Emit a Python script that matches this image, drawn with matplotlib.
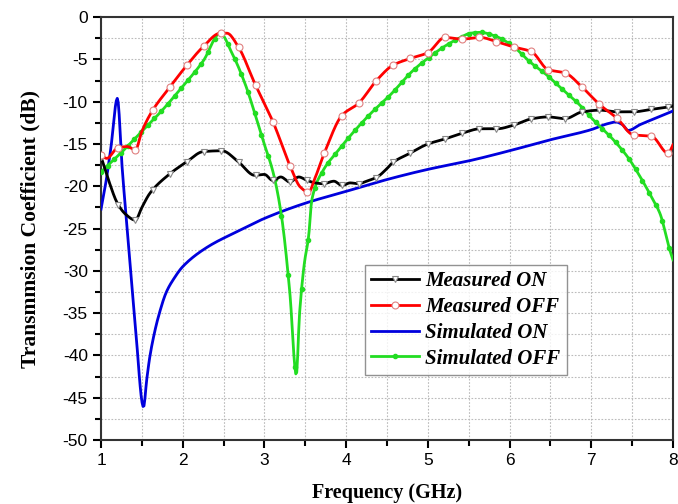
import numpy as np
import matplotlib
matplotlib.use("Agg")
import matplotlib.pyplot as plt
from matplotlib.ticker import MultipleLocator

plt.rcParams['axes.unicode_minus'] = False

# Measured ON
mon_x = [1.0, 1.1, 1.2, 1.3, 1.42, 1.5, 1.6, 1.82, 2.05, 2.25, 2.48, 2.68, 2.88, 3.0, 3.1, 3.2, 3.31, 3.42, 3.52,
         3.62, 3.72, 3.85, 3.95, 4.05, 4.15, 4.25, 4.38, 4.5, 4.57, 4.78, 5.0, 5.21, 5.43, 5.64, 5.85, 6.04, 6.28,
         6.47, 6.68, 6.89, 7.11, 7.32, 7.51, 7.74, 7.96, 8.0]
mon_y = [-16.5, -19.5, -22.0, -23.3, -24.0, -22.5, -20.8, -18.7, -17.1, -15.9, -15.8, -17.1, -18.7, -18.6, -19.3, -18.9, -19.5, -18.9, -19.3,
         -19.6, -19.7, -19.4, -19.9, -19.6, -19.7, -19.4, -18.9, -17.9, -17.2, -16.1, -15.0, -14.4, -13.7, -13.2, -13.2, -12.8, -12.0,
         -11.8, -12.0, -11.2, -11.0, -11.2, -11.2, -10.9, -10.6, -10.5]

# Measured OFF
moff_x = [1.0, 1.07, 1.2, 1.32, 1.42, 1.5, 1.62, 1.84, 2.05, 2.25, 2.46, 2.54, 2.68, 2.88, 3.11, 3.31, 3.44, 3.54,
          3.62, 3.74, 3.95, 4.15, 4.38, 4.57, 4.78, 5.0, 5.21, 5.42, 5.64, 5.84, 6.04, 6.27, 6.47, 6.68, 6.89, 7.11,
          7.32, 7.51, 7.74, 7.94, 8.0]
moff_y = [-16.3, -16.7, -15.5, -15.3, -15.7, -13.5, -11.2, -8.3, -5.7, -3.5, -1.9, -1.9, -3.5, -7.8, -12.5, -17.5, -20.1, -20.7,
          -19.0, -15.9, -11.6, -10.2, -7.4, -5.7, -4.9, -4.2, -2.4, -2.6, -2.4, -2.9, -3.5, -4.1, -6.2, -6.6, -8.3, -10.4,
          -12.0, -13.9, -14.1, -16.1, -15.1]

# Simulated ON
son_x = [1.0, 1.06, 1.12, 1.2, 1.26, 1.34, 1.42, 1.52, 1.56, 1.6, 1.65, 1.7, 1.8, 1.9, 2.0, 2.3, 2.7, 3.0, 3.5, 4.0,
         4.5, 5.0, 5.5, 6.0, 6.5, 7.0, 7.2, 7.3, 7.38, 7.45, 7.6, 7.8, 8.0]
son_y = [-22.7, -19.5, -15.5, -9.6, -18.0, -27.3, -36.5, -46.1, -42.8, -40.0, -37.5, -35.5, -32.5, -30.8, -29.5, -27.2, -25.2, -23.8, -22.0, -20.6,
         -19.2, -18.0, -17.0, -15.8, -14.5, -13.3, -12.6, -12.4, -12.7, -13.4, -12.7, -11.9, -11.1]

# Simulated OFF
soff_x = [1.0, 1.25, 1.48, 1.75, 1.99, 2.25, 2.46, 2.6, 2.76, 2.98, 3.11, 3.21, 3.31, 3.39, 3.43, 3.49, 3.54, 3.58,
          3.72, 3.9, 4.08, 4.3, 4.54, 4.82, 5.05, 5.23, 5.4, 5.52, 5.64, 5.84, 6.05, 6.25, 6.45, 6.62, 6.85, 7.03, 7.27,
          7.45, 7.6, 7.75, 7.84, 7.96, 8.0]
soff_y = [-18.3, -16.0, -13.7, -11.0, -8.3, -5.2, -1.9, -4.2, -7.8, -14.5, -18.5, -23.6, -32.5, -42.3, -35.0, -29.0, -26.0, -21.6,
          -18.1, -15.8, -13.7, -11.4, -9.2, -6.3, -4.5, -3.3, -2.4, -1.9, -1.8, -2.3, -3.5, -5.3, -6.8, -8.3, -10.3, -12.2, -14.5,
          -16.6, -18.9, -21.5, -23.2, -27.5, -28.7]

xticks = [1, 2, 3, 4, 5, 6, 7, 8]
yticks = [0, -5, -10, -15, -20, -25, -30, -35, -40, -45, -50]


def smooth(xs, ys, n=600):
    xs = np.asarray(xs, float)
    ys = np.asarray(ys, float)
    xx = np.linspace(xs[0], xs[-1], n)
    d = np.diff(ys) / np.diff(xs)
    m = np.zeros_like(ys)
    m[0], m[-1] = d[0], d[-1]
    for i in range(1, len(ys) - 1):
        if d[i - 1] * d[i] <= 0:
            m[i] = 0.0
        else:
            w1 = 2 * (xs[i + 1] - xs[i]) + (xs[i] - xs[i - 1])
            w2 = (xs[i + 1] - xs[i]) + 2 * (xs[i] - xs[i - 1])
            m[i] = (w1 + w2) / (w1 / d[i - 1] + w2 / d[i])
    idx = np.clip(np.searchsorted(xs, xx) - 1, 0, len(xs) - 2)
    x0, x1 = xs[idx], xs[idx + 1]
    y0, y1 = ys[idx], ys[idx + 1]
    m0, m1 = m[idx], m[idx + 1]
    h = x1 - x0
    t = (xx - x0) / h
    h00 = 2 * t**3 - 3 * t**2 + 1
    h10 = t**3 - 2 * t**2 + t
    h01 = -2 * t**3 + 3 * t**2
    h11 = t**3 - t**2
    yy = h00 * y0 + h10 * h * m0 + h01 * y1 + h11 * h * m1
    return xx, yy


fig = plt.figure(figsize=(6.78, 5.04), dpi=100)
ax = fig.add_axes([0.149, 0.127, 0.8436, 0.839])

serif = ['Liberation Serif', 'DejaVu Serif']
sans = ['Liberation Sans', 'DejaVu Sans']

x, y = smooth(mon_x, mon_y)
ax.plot(x, y, color='black', lw=2, marker='v', markevery=np.arange(0, len(x), 18),
        markersize=5, markerfacecolor='white', markeredgecolor='#888888', markeredgewidth=0.8,
        label='Measured ON', zorder=4)
x, y = smooth(moff_x, moff_y)
ax.plot(x, y, color='red', lw=2, marker='o', markevery=np.arange(0, len(x), 18),
        markersize=5, markerfacecolor='white', markeredgecolor='#e08080', markeredgewidth=0.8,
        label='Measured OFF', zorder=4)
x, y = smooth(son_x, son_y)
ax.plot(x, y, color='#0000dd', lw=2, label='Simulated ON', zorder=3)
x, y = smooth(soff_x, soff_y)
ax.plot(x, y, color='#22dd22', lw=2, marker='o', markevery=np.arange(0, len(x), 7),
        markersize=3, markerfacecolor='#22dd22', markeredgecolor='#22dd22',
        label='Simulated OFF', zorder=3)

ax.set_xlim(1, 8)
ax.set_ylim(-50, 0)
ax.set_xticks(xticks)
ax.set_yticks(yticks)
ax.xaxis.set_minor_locator(MultipleLocator(0.5))
ax.yaxis.set_minor_locator(MultipleLocator(2.5))
ax.grid(True, which='both', color='#bbbbbb', linestyle=(0, (1.5, 1.5)), lw=0.8)
ax.tick_params(which='major', direction='out', length=6, width=1.5, labelsize=12.5)
ax.tick_params(which='minor', direction='out', length=4, width=1.5)
for lab in ax.get_xticklabels() + ax.get_yticklabels():
    lab.set_fontfamily(sans)
for s in ax.spines.values():
    s.set_linewidth(1.5)
    s.set_color('#333333')

ax.set_xlabel('Frequency (GHz)', fontsize=14.5, fontweight='bold', family=serif, labelpad=11)
ax.set_ylabel('Transmmsion Coefficient (dB)', fontsize=15.5, fontweight='bold', family=serif, labelpad=16)

leg = ax.legend(loc='upper left', bbox_to_anchor=(0.4615, 0.414), frameon=True, fancybox=False,
                prop={'family': serif, 'weight': 'bold', 'style': 'italic', 'size': 15},
                handlelength=2.3, labelspacing=0.28, borderpad=0.3, handletextpad=0.3, borderaxespad=0)
leg.get_frame().set_edgecolor('#777777')
leg.get_frame().set_linewidth(1.0)

fig.savefig('out.png', dpi=100)
